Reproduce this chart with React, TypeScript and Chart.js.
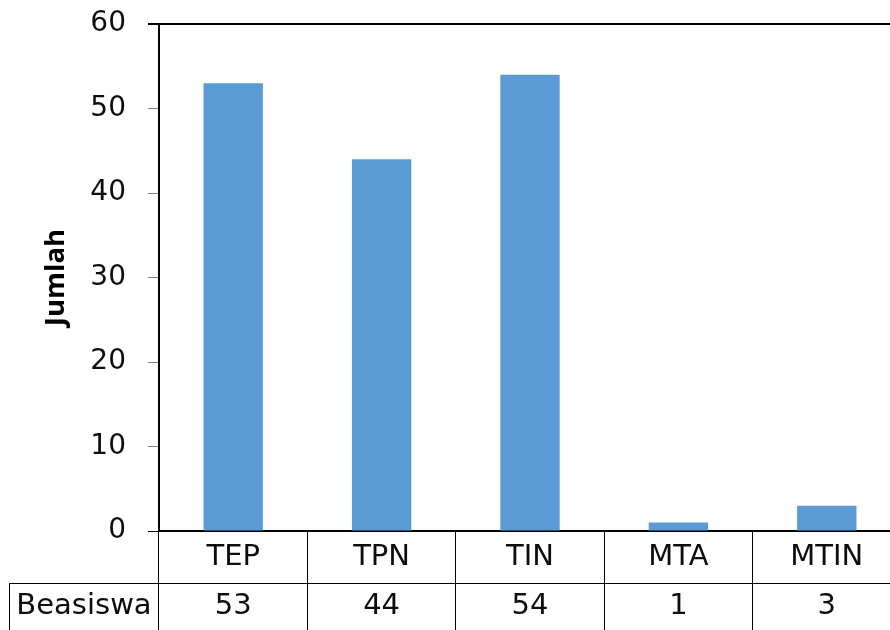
import React, { useEffect, useRef } from 'react';
import { Chart, registerables } from 'chart.js';

Chart.register(...registerables);

const categories = ['TEP', 'TPN', 'TIN', 'MTA', 'MTIN'];
const beasiswa = [53, 44, 54, 1, 3];
const seriesLabel = 'Beasiswa';
const yTitle = 'Jumlah';
const yMin = 0;
const yMax = 60;
const yStep = 10;

const tablePlugin = {
  id: 'dataTable',
  afterDraw(chart: any) {
    const { ctx, chartArea, scales } = chart;
    const x = scales.x;
    const left = chartArea.left;
    const right = chartArea.right;
    const bottom = chartArea.bottom;
    const midLine = bottom + 52;
    const boxLeft = 9;
    const canvasBottom = chart.height;
    ctx.save();
    ctx.strokeStyle = '#000';
    ctx.lineWidth = 1;
    ctx.beginPath();
    ctx.moveTo(boxLeft, midLine + 0.5);
    ctx.lineTo(right, midLine + 0.5);
    ctx.moveTo(boxLeft + 0.5, midLine);
    ctx.lineTo(boxLeft + 0.5, canvasBottom);
    ctx.stroke();

    ctx.fillStyle = '#0d0d0d';
    ctx.font = '29px "DejaVu Sans"';
    ctx.textAlign = 'center';
    ctx.textBaseline = 'middle';
    const row1 = (bottom + midLine) / 2;
    const row2 = (midLine + canvasBottom) / 2;
    categories.forEach((c, i) => {
      const px = x.getPixelForValue(i);
      ctx.fillText(c, px, row1);
      ctx.fillText(String(beasiswa[i]), px, row2);
    });
    ctx.fillText(seriesLabel, (boxLeft + left) / 2, row2);
    ctx.restore();
  },
};

export default function App() {
  const ref = useRef<HTMLCanvasElement | null>(null);

  useEffect(() => {
    if (!ref.current) return;
    const chart = new Chart(ref.current, {
      type: 'bar',
      data: {
        labels: categories,
        datasets: [
          {
            label: seriesLabel,
            data: beasiswa,
            backgroundColor: '#5B9BD5',
            borderWidth: 0,
            barPercentage: 0.4,
            categoryPercentage: 1,
          },
        ],
      },
      options: {
        animation: false,
        responsive: false,
        devicePixelRatio: 1,
        layout: { padding: { top: 24, right: 1, bottom: 0, left: 0 } },
        plugins: {
          legend: { display: false },
          tooltip: { enabled: false },
        },
        scales: {
          x: {
            offset: true,
            ticks: { display: false },
            grid: {
              display: true,
              offset: true,
              drawOnChartArea: false,
              drawTicks: true,
              tickLength: 99,
              color: '#000',
              lineWidth: 1,
            },
            border: { display: true, color: '#000', width: 2 },
            afterFit: (s: any) => {
              s.height = 99;
            },
          },
          y: {
            min: yMin,
            max: yMax,
            ticks: {
              stepSize: yStep,
              padding: 22,
              color: '#0d0d0d',
              font: { family: '"DejaVu Sans"', size: 28 },
            },
            grid: {
              drawOnChartArea: true,
              drawTicks: true,
              tickLength: 11,
              color: (c: any) => (c.tick && c.tick.value === yMax ? '#000' : 'rgba(0,0,0,0)'),
              tickColor: (c: any) =>
                c.tick && (c.tick.value === yMax || c.tick.value === yMin) ? '#000' : '#808080',
              lineWidth: (c: any) => (c.tick && c.tick.value === yMax ? 2 : 1),
            },
            border: { display: true, color: '#000', width: 2 },
            title: {
              display: true,
              text: yTitle,
              color: '#000',
              font: { family: '"Open Sans"', size: 27.5, weight: 'bold' },
              padding: { top: 40, bottom: 0 },
            },
            afterFit: (s: any) => {
              s.width = 159;
              s.paddingTop = 0;
              s.paddingBottom = 0;
            },
          },
        },
      },
      plugins: [tablePlugin],
    });
    return () => chart.destroy();
  }, []);

  return (
    <div
      style={{
        position: 'absolute',
        left: 0,
        top: 0,
        width: 890,
        height: 630,
        overflow: 'hidden',
        background: '#fff',
      }}
    >
      <canvas ref={ref} width={902} height={630} style={{ display: 'block' }} />
    </div>
  );
}
